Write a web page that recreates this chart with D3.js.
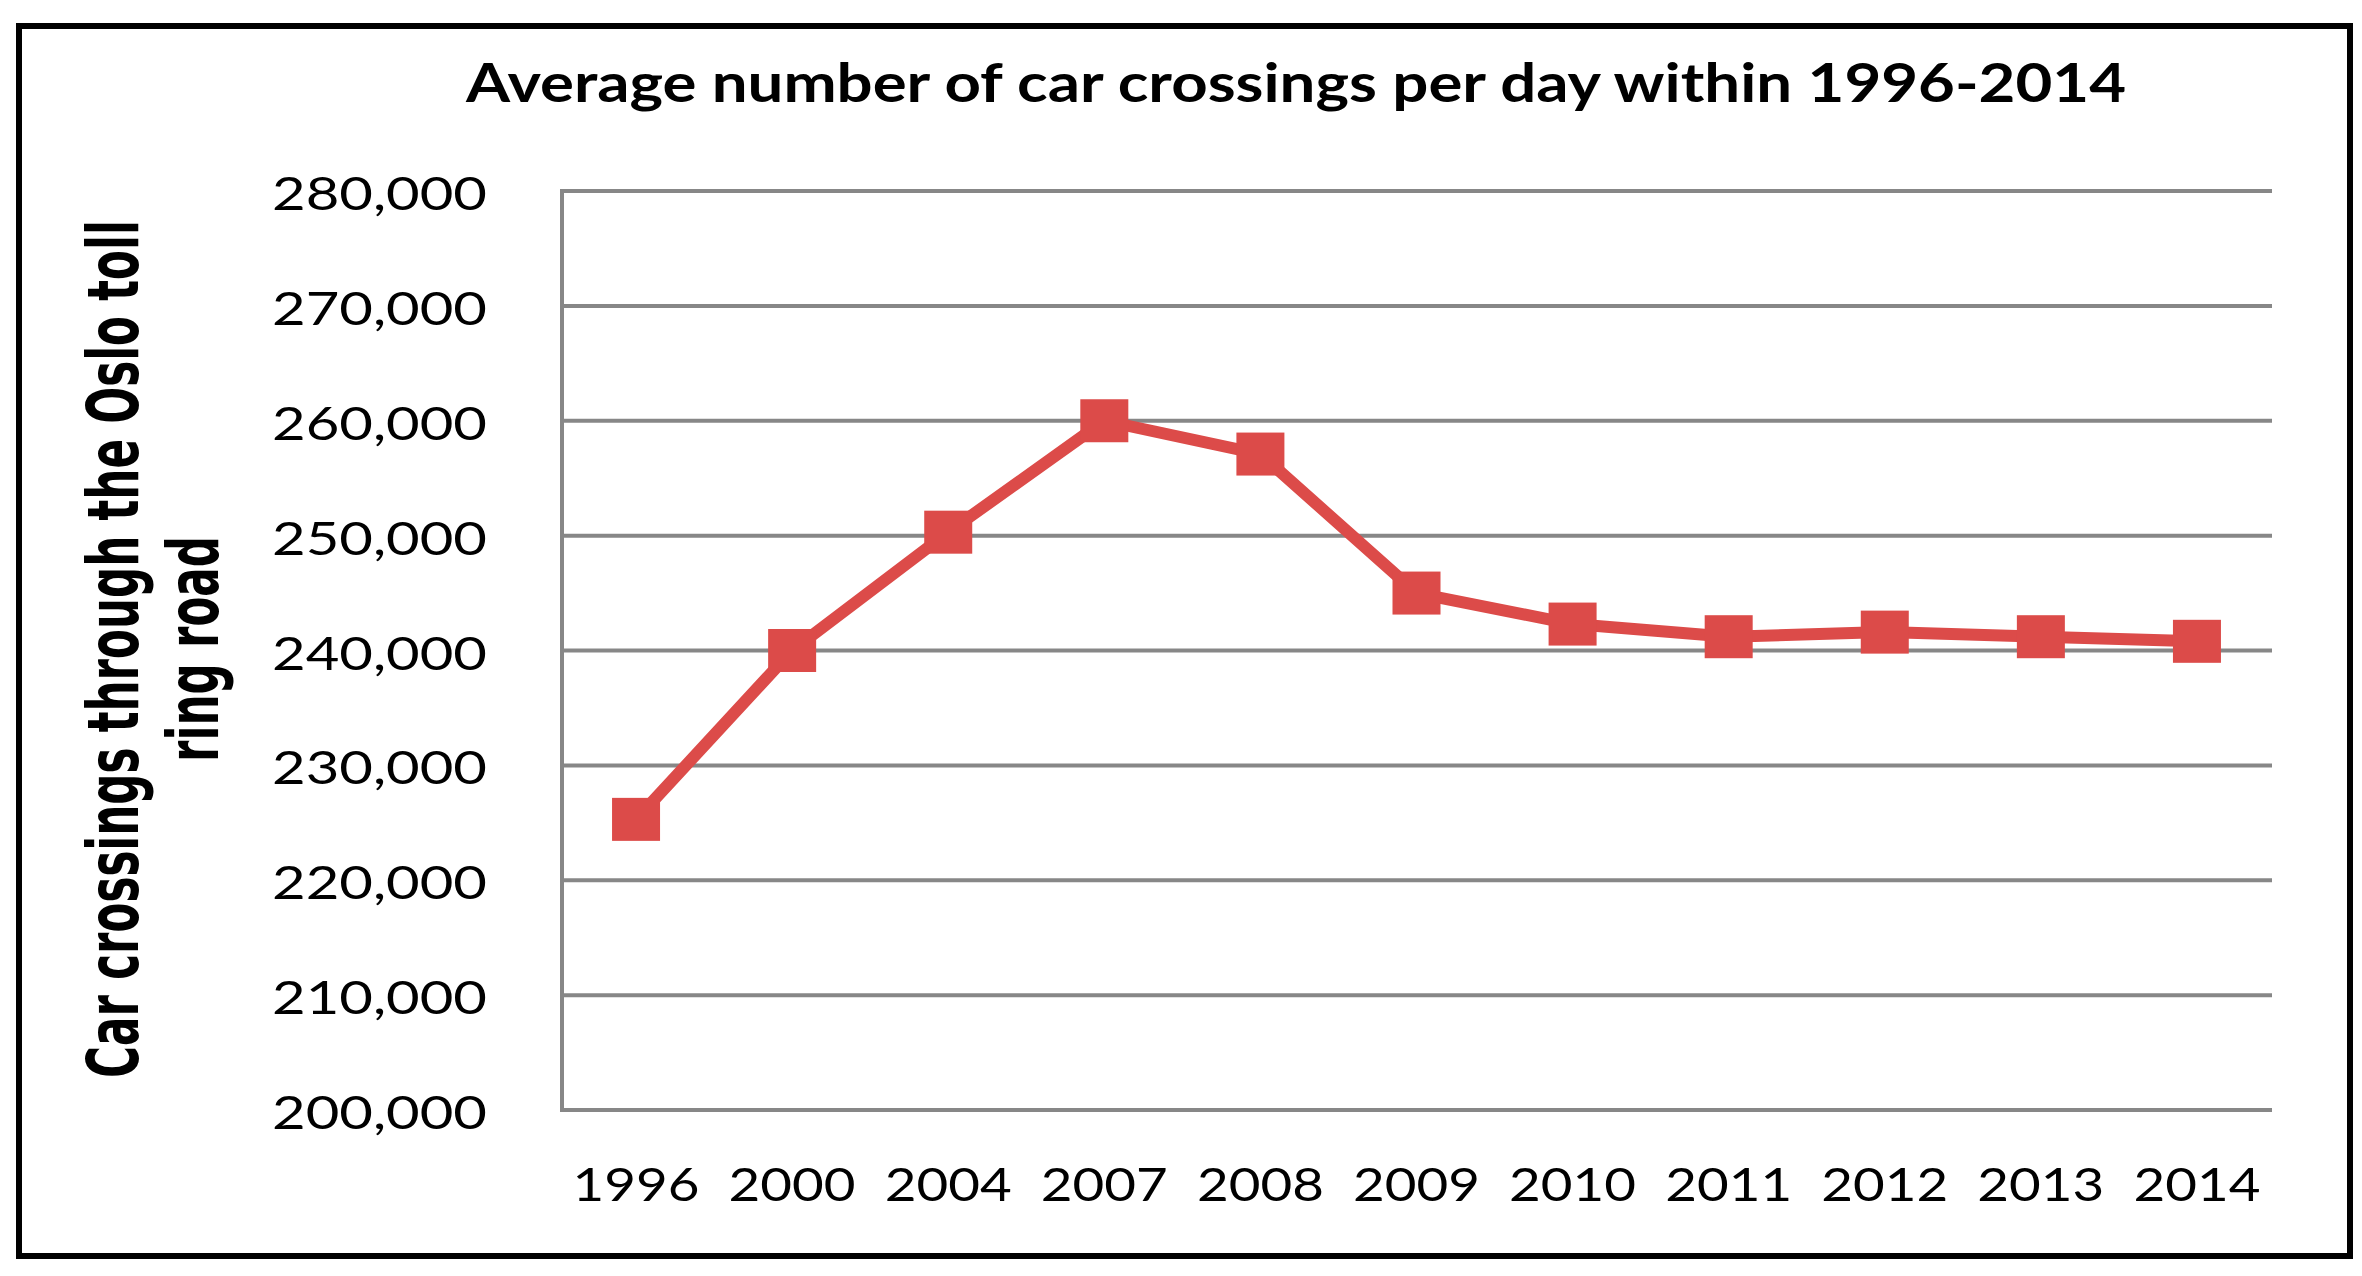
<!DOCTYPE html>
<html>
<head>
<meta charset="utf-8">
<script src="https://cdn.jsdelivr.net/npm/d3@7"></script>
<style>
  html, body { margin: 0; padding: 0; background: #fff; }
  svg { display: block; }
  .tick-label { font-family: Lato, "Open Sans", sans-serif; fill: #000; }
</style>
</head>
<body>
<div id="chart"></div>
<script>
// data
const years = ['1996', '2000', '2004', '2007', '2008', '2009', '2010', '2011', '2012', '2013', '2014'];
const crossings = [225300, 240000, 250300, 260000, 257100, 245000, 242300, 241200, 241600, 241200, 240800];
const yTicks = [200000, 210000, 220000, 230000, 240000, 250000, 260000, 270000, 280000];

const title = 'Average number of car crossings per day within 1996-2014';
const yTitleLines = ['Car crossings through the Oslo toll', 'ring road'];

const width = 2362,
      height = 1276,
      plot = {left: 562, right: 2272, top: 191, bottom: 1110},
      red = '#dc4b49',
      grid = '#878787';

const svg = d3.select('#chart')
  .append('svg')
  .attr('width', width)
  .attr('height', height);

// outer frame
svg.append('rect')
  .attr('x', 19).attr('y', 26)
  .attr('width', 2331).attr('height', 1230)
  .attr('fill', '#fff')
  .attr('stroke', '#000')
  .attr('stroke-width', 6);

// categories sit a little left of the axis line in the original
const x = d3.scaleBand()
  .domain(years)
  .range([558, 2275])
  .paddingInner(0)
  .paddingOuter(0);

const y = d3.scaleLinear()
  .domain([200000, 280000])
  .range([plot.bottom, plot.top]);

const fmt = d3.format(',');

// gridlines
svg.append('g')
  .selectAll('line')
  .data(yTicks)
  .enter()
  .append('line')
  .attr('x1', plot.left)
  .attr('x2', plot.right)
  .attr('y1', d => y(d))
  .attr('y2', d => y(d))
  .attr('stroke', grid)
  .attr('stroke-width', 4);

// left axis line
svg.append('line')
  .attr('x1', plot.left).attr('x2', plot.left)
  .attr('y1', plot.top - 2).attr('y2', plot.bottom + 2)
  .attr('stroke', grid)
  .attr('stroke-width', 4);

// y tick labels
svg.append('g')
  .selectAll('text')
  .data(yTicks)
  .enter()
  .append('text')
  .classed('tick-label', true)
  .attr('x', 487)
  .attr('y', d => y(d) + 19)
  .attr('text-anchor', 'end')
  .attr('font-size', 46)
  .attr('textLength', 215)
  .attr('lengthAdjust', 'spacingAndGlyphs')
  .text(d => fmt(d));

// x tick labels
svg.append('g')
  .selectAll('text')
  .data(years)
  .enter()
  .append('text')
  .classed('tick-label', true)
  .attr('x', d => x(d) + x.bandwidth() / 2)
  .attr('y', 1201)
  .attr('text-anchor', 'middle')
  .attr('font-size', 46)
  .attr('textLength', 127)
  .attr('lengthAdjust', 'spacingAndGlyphs')
  .text(d => d);

// title
svg.append('text')
  .attr('x', 466)
  .attr('y', 102)
  .attr('font-family', 'Lato, "Open Sans", sans-serif')
  .attr('font-weight', 'bold')
  .attr('font-size', 54)
  .attr('textLength', 1660)
  .attr('lengthAdjust', 'spacingAndGlyphs')
  .text(title);

// y axis title, two rotated lines, squeezed along the text with a scale
const yTitle = svg.append('g')
  .attr('transform', 'translate(0, 649) rotate(-90)');

[[yTitleLines[0], 138, 858], [yTitleLines[1], 218, 226]].forEach(([txt, base, len]) => {
  const g = yTitle.append('g');
  const t = g.append('text')
    .attr('x', 0)
    .attr('y', 0)
    .attr('text-anchor', 'middle')
    .attr('font-family', '"DejaVu Sans", Verdana, sans-serif')
    .attr('font-weight', 'bold')
    .attr('font-size', 72)
    .text(txt);
  const natural = t.node().getComputedTextLength();
  g.attr('transform', `translate(0, ${base}) scale(${len / natural}, 1)`);
});

// series
const series = years.map((d, i) => ({year: d, value: crossings[i]}));

const line = d3.line()
  .x(d => x(d.year) + x.bandwidth() / 2)
  .y(d => y(d.value));

svg.append('path')
  .datum(series)
  .attr('d', line)
  .attr('fill', 'none')
  .attr('stroke', red)
  .attr('stroke-width', 12)
  .attr('stroke-linejoin', 'round');

const mw = 48, mh = 43;
svg.append('g')
  .selectAll('rect')
  .data(series)
  .enter()
  .append('rect')
  .attr('x', d => x(d.year) + x.bandwidth() / 2 - mw / 2)
  .attr('y', d => y(d.value) - mh / 2)
  .attr('width', mw)
  .attr('height', mh)
  .attr('fill', red);
</script>
</body>
</html>
